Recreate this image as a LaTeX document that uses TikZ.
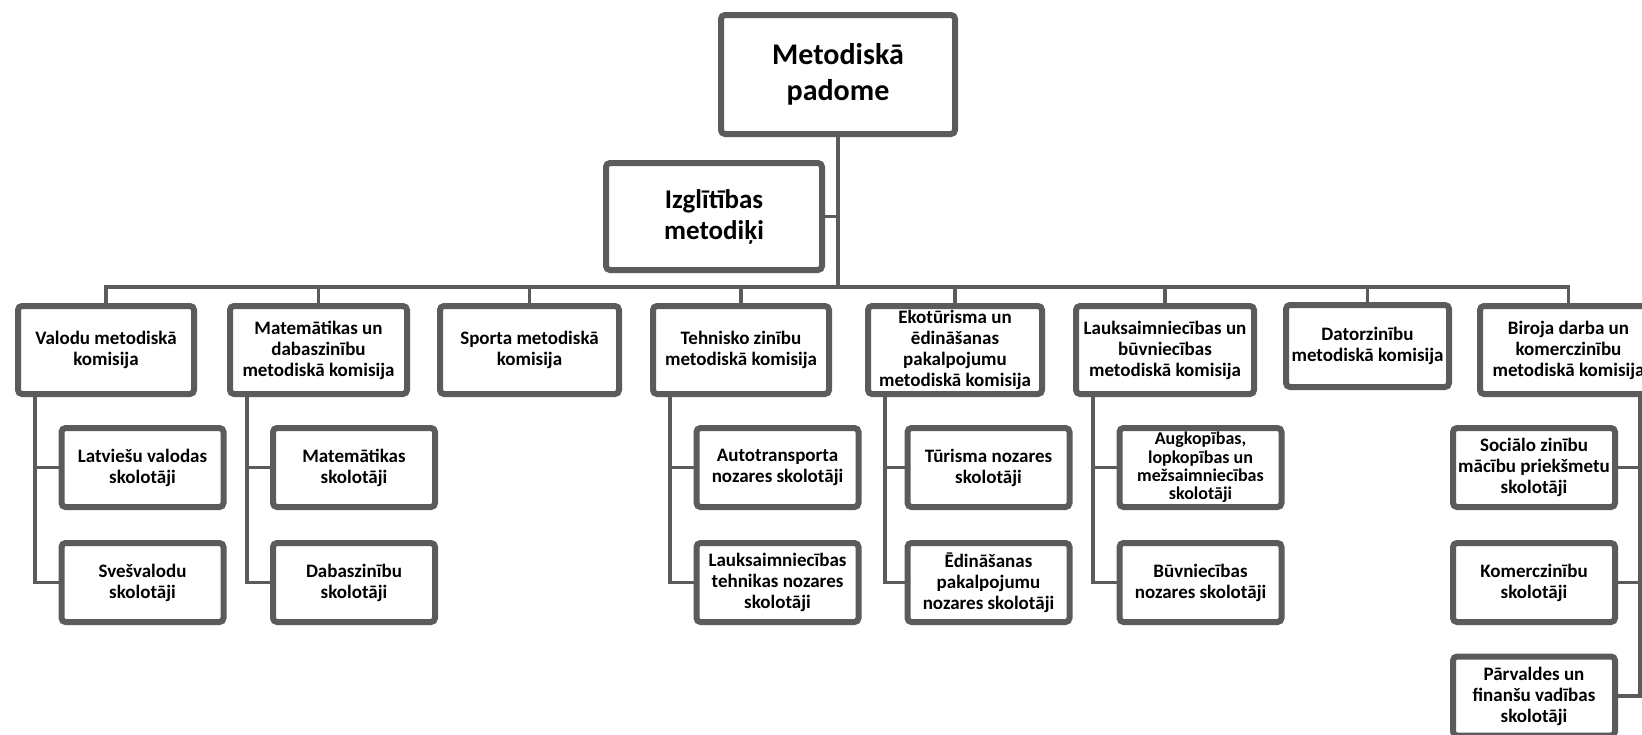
\documentclass[tikz,border=0pt]{standalone}
\usepackage{fontspec}
\setmainfont{Carlito}
\definecolor{lc}{HTML}{5B5B5B}
\begin{document}
\begin{tikzpicture}[x=0.5pt,y=-0.5pt,
  box/.style={draw=lc, line width=3pt, rounded corners=2pt, fill=white, inner sep=0pt, outer sep=0pt,
    align=center, font=\bfseries\fontsize{9.5pt}{10.5pt}\selectfont, minimum height=44pt, minimum width=88pt},
  kid/.style={box, minimum width=81pt, minimum height=39.5pt},
  conn/.style={draw=lc, line width=1.7pt}]
\useasboundingbox (0,0) rectangle (1642,734);
\clip (0,0) rectangle (1642,734);

% top levels
\node[box, minimum width=117pt, minimum height=59.5pt, font=\bfseries\fontsize{15pt}{18pt}\selectfont] (top) at (838,74.5) {Metodiskā\\padome};
\node[box, minimum width=108pt, minimum height=53.5pt, font=\bfseries\fontsize{13.5pt}{15.5pt}\selectfont] (izg) at (714,216.5) {Izglītības\\metodiķi};

% commissions
\node[box] (b1) at (106,350) {Valodu metodiskā\\komisija};
\node[box, minimum width=88.5pt] (b2) at (318.5,350) {Matemātikas un\\dabaszinību\\metodiskā komisija};
\node[box, minimum width=89.5pt] (b3) at (529.5,350) {Sporta metodiskā\\komisija};
\node[box] (b4) at (741,350) {Tehnisko zinību\\metodiskā komisija};
\node[box, minimum width=87pt] (b5) at (955,350) {Ekotūrisma un\\ēdināšanas\\pakalpojumu\\metodiskā komisija};
\node[box, minimum width=89pt] (b6) at (1165,350) {Lauksaimniecības un\\būvniecības\\metodiskā komisija};
\node[box, minimum width=81.5pt, minimum height=41pt] (b7) at (1367.5,346) {Datorzinību\\metodiskā komisija};
\node[box, minimum width=88.5pt] (b8) at (1568.5,350) {Biroja darba un\\komerczinību\\metodiskā komisija};

% teachers
\node[kid] (c11) at (142.5,467.5) {Latviešu valodas\\skolotāji};
\node[kid] (c12) at (142.5,582.5) {Svešvalodu\\skolotāji};
\node[kid] (c21) at (354,467.5) {Matemātikas\\skolotāji};
\node[kid] (c22) at (354,582.5) {Dabaszinību\\skolotāji};
\node[kid] (c41) at (777.5,467.5) {Autotransporta\\nozares skolotāji};
\node[kid] (c42) at (777.5,582.5) {Lauksaimniecības\\tehnikas nozares\\skolotāji};
\node[kid] (c51) at (988.5,467.5) {Tūrisma nozares\\skolotāji};
\node[kid] (c52) at (988.5,582.5) {Ēdināšanas\\pakalpojumu\\nozares skolotāji};
\node[kid, font=\bfseries\fontsize{9pt}{9.2pt}\selectfont] (c61) at (1200.5,467.5) {Augkopības,\\lopkopības un\\mežsaimniecības\\skolotāji};
\node[kid] (c62) at (1200.5,582.5) {Būvniecības\\nozares skolotāji};
\node[kid] (c81) at (1534,467.5) {Sociālo zinību\\mācību priekšmetu\\skolotāji};
\node[kid] (c82) at (1534,582.5) {Komerczinību\\skolotāji};
\node[kid] (c83) at (1534,696) {Pārvaldes un\\finanšu vadības\\skolotāji};

% connectors top
\coordinate (bus) at (0,287);
\draw[conn] (top.south) -- (top.south |- bus);
\draw[conn] (izg.east) -- (izg.east -| top.south);
\draw[conn] (b1.north) -- (b1.north |- bus) -- (b8.north |- bus) -- (b8.north);
\foreach \b in {b2,b3,b4,b5,b6,b7}{
  \draw[conn] (\b.north) -- (\b.north |- bus);
}

% connectors to teachers (left side)
\foreach \b/\p/\q in {b1/c11/c12, b2/c21/c22, b4/c41/c42, b5/c51/c52, b6/c61/c62}{
  \coordinate (v) at ([xshift=8.5pt]\b.south west);
  \draw[conn] (v) |- (\q.west);
  \draw[conn] (\p.west -| v) -- (\p.west);
}

% right side group
\coordinate (v8) at ([xshift=-8.5pt]b8.south east);
\draw[conn] (v8) |- (c83.east);
\draw[conn] (c81.east) -- (c81.east -| v8);
\draw[conn] (c82.east) -- (c82.east -| v8);
\end{tikzpicture}
\end{document}
